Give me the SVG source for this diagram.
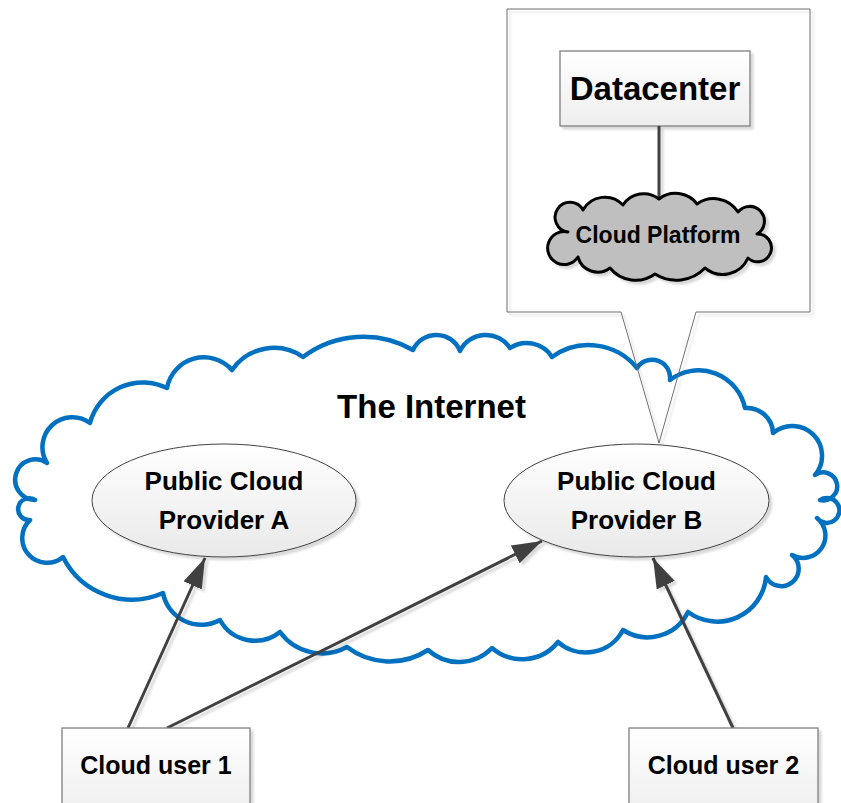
<svg xmlns="http://www.w3.org/2000/svg" width="841" height="803" viewBox="0 0 841 803">
<style>
  text { font-family: "Liberation Sans", Arial, sans-serif; font-weight: bold; fill: #000; text-anchor: middle; }
  .box { fill: url(#gBox); stroke: #7f7f7f; stroke-width: 1.3; }
  .ell { fill: url(#gEll); stroke: #404040; stroke-width: 1; }
  .conn { stroke: #404040; stroke-width: 3; fill: none; }
</style>
<defs>
  <linearGradient id="gBox" x1="0" y1="0" x2="0" y2="1">
    <stop offset="0" stop-color="#ffffff"/>
    <stop offset="1" stop-color="#eeeeee"/>
  </linearGradient>
  <linearGradient id="gEll" x1="0" y1="0" x2="0" y2="1">
    <stop offset="0" stop-color="#ffffff"/>
    <stop offset="1" stop-color="#e9e9e9"/>
  </linearGradient>
  <filter id="sh" x="-10%" y="-10%" width="130%" height="130%">
    <feDropShadow dx="3" dy="3" stdDeviation="1" flood-color="#000000" flood-opacity="0.15"/>
  </filter>
  <filter id="shu" filterUnits="userSpaceOnUse" x="0" y="0" width="841" height="803">
    <feDropShadow dx="3" dy="3" stdDeviation="1" flood-color="#000000" flood-opacity="0.15"/>
  </filter>
  <marker id="arr" markerUnits="userSpaceOnUse" markerWidth="32" markerHeight="22" refX="30" refY="10" orient="auto">
    <path d="M0,0 L30,10 L0,20 Z" fill="#404040"/>
  </marker>
</defs>
<rect width="841" height="803" fill="#ffffff"/>

<g id="internet">
  <path fill="none" stroke="#0070c0" stroke-width="4.5" stroke-linejoin="round"
    d="M35,500 A20.3,20.3 0 1 1 47,463 A29.9,29.9 0 0 1 90,423 A54.7,54.7 0 0 1 167,388 A37.5,37.5 0 0 1 232,370 A51,51 0 0 1 303,357 A100,100 0 0 1 413,350 A25.5,25.5 0 0 1 460,351 A28.8,28.8 0 0 1 510,348 A30,30 0 0 1 552,357 A62.5,62.5 0 0 1 637,368 A18,18 0 0 1 670,380 A47.4,47.4 0 0 1 745,408 A26,26 0 0 1 773,433 A29.8,29.8 0 0 1 815,475 A14,14 0 1 1 820,500 A12.5,12.5 0 1 1 817,518 A22.4,22.4 0 0 1 792,555 A17.4,17.4 0 1 1 766,577 A49,49 0 0 1 688,612 A45,45 0 0 1 623,630 A42,42 0 0 1 558,642 A46,46 0 0 1 492,648 A46,46 0 0 1 428,650 A70,70 0 0 1 347,647 A52,52 0 0 1 280,632 A40,40 0 0 1 220,620 A39,39 0 0 1 163,593 A77,77 0 0 1 63,557 A24.8,24.8 0 0 1 30,520 A10.9,10.9 0 1 1 35,500 Z"/>
  <text x="431.5" y="418" font-size="33">The Internet</text>
</g>

<g id="callout">
  <path d="M507,9 H810 V312 H696 L659,443 L621,312 H507 Z" fill="none" stroke="#6f6f6f" stroke-width="1" filter="url(#shu)"/>
</g>

<g id="datacenter">
  <rect class="box" x="560" y="51" width="190" height="75" filter="url(#sh)"/>
  <text x="655" y="100" font-size="33">Datacenter</text>
</g>

<g id="connectors">
  <line class="conn" x1="659" y1="126" x2="659" y2="201" filter="url(#shu)"/>
  <g filter="url(#shu)">
    <line class="conn" x1="128" y1="728" x2="205" y2="558" marker-end="url(#arr)"/>
    <line class="conn" x1="167" y1="728" x2="542" y2="541" marker-end="url(#arr)"/>
    <line class="conn" x1="733" y1="728" x2="653" y2="558" marker-end="url(#arr)"/>
  </g>
</g>

<g id="cloud-platform">
  <path fill="#bfbfbf" stroke="#000000" stroke-width="3" stroke-linejoin="round" filter="url(#sh)"
    d="M568,232 A14.9,14.9 0 1 1 583,210 A25,25 0 0 1 623,205 A24.8,24.8 0 0 1 659,199 A27,27 0 0 1 697,204 A28.8,28.8 0 0 1 738,212 A14.8,14.8 0 1 1 757,234 A13.9,13.9 0 1 1 748,258 A27.6,27.6 0 0 1 705,268 A39.8,39.8 0 0 1 655,274 A33,33 0 0 1 610,268 A20.4,20.4 0 0 1 578,257 A16.5,16.5 0 1 1 568,232 Z"/>
  <text x="658" y="243" font-size="23">Cloud Platform</text>
</g>

<g id="provider-a">
  <ellipse class="ell" cx="224" cy="500.5" rx="132" ry="56.5" filter="url(#sh)"/>
  <text x="224" y="490" font-size="26">Public Cloud</text>
  <text x="224" y="529" font-size="26">Provider A</text>
</g>

<g id="provider-b">
  <ellipse class="ell" cx="636.5" cy="500.5" rx="132.5" ry="56.5" filter="url(#sh)"/>
  <text x="636.5" y="490" font-size="26">Public Cloud</text>
  <text x="636.5" y="529" font-size="26">Provider B</text>
</g>

<g id="user-1">
  <rect class="box" x="62" y="728" width="188" height="90" filter="url(#sh)"/>
  <text x="156" y="774" font-size="25">Cloud user 1</text>
</g>

<g id="user-2">
  <rect class="box" x="629" y="728" width="189" height="90" filter="url(#sh)"/>
  <text x="723.5" y="774" font-size="25">Cloud user 2</text>
</g>
</svg>
